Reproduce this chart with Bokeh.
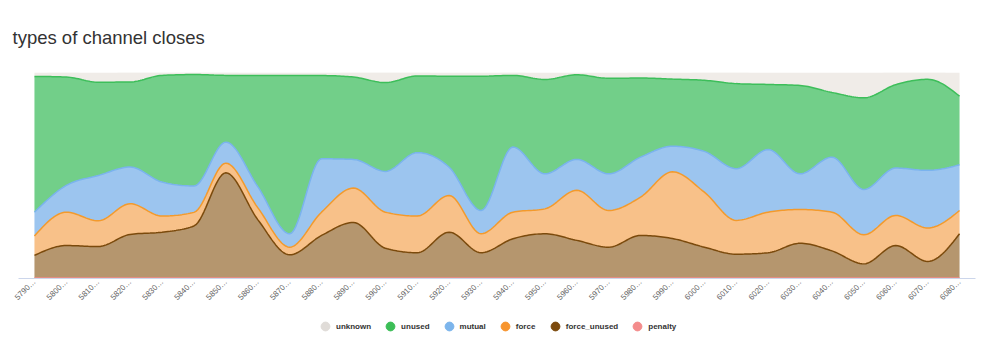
import numpy as np
from bokeh.plotting import figure
from bokeh.layouts import column
from bokeh.models import FixedTicker, Legend, LegendItem, Range1d
from bokeh.embed import file_html
from bokeh.resources import INLINE

categories = ["5790…", "5800…", "5810…", "5820…", "5830…", "5840…", "5850…", "5860…",
              "5870…", "5880…", "5890…", "5900…", "5910…", "5920…", "5930…", "5940…",
              "5950…", "5960…", "5970…", "5980…", "5990…", "6000…", "6010…", "6020…",
              "6030…", "6040…", "6050…", "6060…", "6070…", "6080…"]

# percentage shares per bucket (stack order bottom -> top)
penalty = [0.2] * 30
force_unused = [11.0, 15.8, 15.3, 21.2, 22.3, 25.3, 51.1, 28.4, 11.3, 20.7, 27.0, 14.5, 12.3, 22.3, 12.3,
                19.1, 21.5, 18.3, 15.0, 20.7, 19.2, 15.0, 11.6, 12.3, 16.9, 13.2, 6.9, 15.8, 8.1, 21.5]
force = [9.4, 16.2, 12.5, 14.9, 7.8, 6.6, 4.7, 5.8, 3.7, 11.3, 16.7, 17.5, 17.8, 17.8, 9.2,
         12.9, 12.1, 24.3, 17.8, 18.6, 32.4, 26.7, 16.4, 19.7, 16.4, 18.8, 14.1, 14.6, 16.2, 11.3]
mutual = [11.6, 13.0, 22.0, 17.8, 16.5, 12.8, 10.2, 10.2, 6.5, 25.9, 13.9, 19.8, 30.8, 13.7, 11.3,
          31.6, 17.0, 15.0, 17.8, 19.4, 12.4, 19.8, 25.1, 30.4, 17.3, 26.7, 22.0, 23.0, 28.0, 22.2]
unused = [65.9, 52.6, 45.3, 41.3, 51.8, 54.1, 32.4, 53.9, 76.8, 40.4, 40.0, 43.1, 37.2, 44.2, 65.2,
          34.8, 45.8, 41.1, 46.4, 38.4, 32.6, 34.5, 41.3, 31.6, 42.9, 31.4, 44.5, 40.5, 44.2, 33.3]
unknown = [1.9, 2.3, 4.7, 4.7, 1.5, 1.1, 1.5, 1.5, 1.5, 1.5, 2.3, 5.0, 1.8, 1.8, 1.8,
           1.5, 3.4, 1.1, 2.8, 2.8, 3.2, 3.9, 5.5, 5.8, 6.3, 9.7, 12.3, 6.0, 3.4, 11.5]

series_names = ["penalty", "force_unused", "force", "mutual", "unused", "unknown"]
series_vals = [penalty, force_unused, force, mutual, unused, unknown]
fill_colors = ["#f7a6a6", "#b5966e", "#f8c189", "#9cc5ef", "#72cf89", "#f0ece8"]
line_colors = ["#f48a8a", "#7b4a0c", "#f39a2c", "#7ab3ee", "#3dbe5a", "#e6e1dc"]
legend_colors = ["#f48c8c", "#7c4a0d", "#f7952f", "#7cb5ec", "#3cbe57", "#e0dcd8"]


def monotone(xs, ys, n=16):
    """d3-style monotone-x cubic through the given points (rendering only)."""
    xs = np.asarray(xs, float)
    ys = np.asarray(ys, float)
    m = len(xs)
    h = np.diff(xs)
    s = np.diff(ys) / h
    t = np.zeros(m)
    for i in range(1, m - 1):
        s0, s1 = s[i - 1], s[i]
        p_ = (s0 * h[i] + s1 * h[i - 1]) / (h[i - 1] + h[i])
        t[i] = (np.sign(s0) + np.sign(s1)) * min(abs(s0), abs(s1), 0.5 * abs(p_))
    t[0] = (3 * s[0] - t[1]) / 2
    t[-1] = (3 * s[-1] - t[-2]) / 2
    ox, oy = [], []
    for i in range(m - 1):
        u = np.linspace(0, 1, n, endpoint=(i == m - 2))
        h00 = 2 * u**3 - 3 * u**2 + 1
        h10 = u**3 - 2 * u**2 + u
        h01 = -2 * u**3 + 3 * u**2
        h11 = u**3 - u**2
        ox.extend(xs[i] + u * h[i])
        oy.extend(h00 * ys[i] + h10 * h[i] * t[i] + h01 * ys[i + 1] + h11 * h[i] * t[i + 1])
    return np.array(ox), np.array(oy)


x = np.arange(len(categories))
p = figure(width=993, height=310, output_backend="svg", toolbar_location=None,
           x_range=Range1d(-0.5, len(categories) - 0.5), y_range=Range1d(0, 100),
           min_border_left=18, min_border_right=18, min_border_top=72, min_border_bottom=32)
p.title.text = "types of channel closes"
p.title.text_font = "Liberation Sans"
p.title.text_font_size = "18.5px"
p.title.text_font_style = "normal"
p.title.text_color = "#333333"
p.title.align = "left"
p.title.offset = -6
p.title.standoff = 49

cum = np.zeros(len(categories))
stack_bounds = []
for vals in series_vals:
    lower = cum.copy()
    cum = cum + np.asarray(vals, float)
    stack_bounds.append((lower, cum.copy()))

for k, name in enumerate(series_names):
    lower, upper = stack_bounds[k]
    sx, sy1 = monotone(x, lower)
    _, sy2 = monotone(x, upper)
    if k == 0:
        sy1 = np.zeros_like(sy1)
    p.varea(x=sx, y1=sy1, y2=sy2, fill_color=fill_colors[k], fill_alpha=1.0)
for k, name in enumerate(series_names):
    lower, upper = stack_bounds[k]
    if name == "unknown":
        continue
    sx, sy2 = monotone(x, upper)
    p.line(sx, sy2, line_color=line_colors[k], line_width=1.5)

p.yaxis.visible = False
p.xgrid.visible = False
p.ygrid.visible = False
p.outline_line_color = None
p.xaxis.ticker = FixedTicker(ticks=list(range(len(categories))))
p.xaxis.major_label_overrides = {i: c for i, c in enumerate(categories)}
p.xaxis.major_label_orientation = np.pi / 4
p.xaxis.major_label_text_font = "Liberation Sans"
p.xaxis.major_label_text_font_size = "8px"
p.xaxis.major_label_text_color = "#666666"
p.xaxis.axis_line_color = "#ccd6eb"
p.xaxis.major_tick_line_color = None
p.xaxis.minor_tick_line_color = None
p.xaxis.major_tick_out = 0
p.xaxis.major_tick_in = 0
p.xaxis.minor_tick_out = 0
p.xaxis.major_label_standoff = 2

# legend strip below the chart
pl = figure(width=993, height=43, output_backend="svg", toolbar_location=None,
            x_range=Range1d(0, 1), y_range=Range1d(0, 1),
            x_axis_location=None, y_axis_location=None,
            min_border_left=0, min_border_right=0, min_border_top=0, min_border_bottom=0)
pl.xgrid.visible = False
pl.ygrid.visible = False
pl.outline_line_color = None
items = []
for k in reversed(range(len(series_names))):
    r = pl.scatter(x=[-5], y=[-5], size=9, fill_color=legend_colors[k], line_color=legend_colors[k])
    items.append(LegendItem(label=series_names[k], renderers=[r]))

legend = Legend(items=items, orientation="horizontal", location=(296, 16),
                glyph_width=22, glyph_height=22, label_standoff=0, spacing=8,
                label_text_font="Liberation Sans", label_text_font_size="8px",
                label_text_font_style="bold", label_text_color="#333333",
                border_line_color=None, background_fill_alpha=0, padding=2, margin=0)
pl.add_layout(legend)

open("out.html", "w").write(file_html(column(p, pl, spacing=0), INLINE))
